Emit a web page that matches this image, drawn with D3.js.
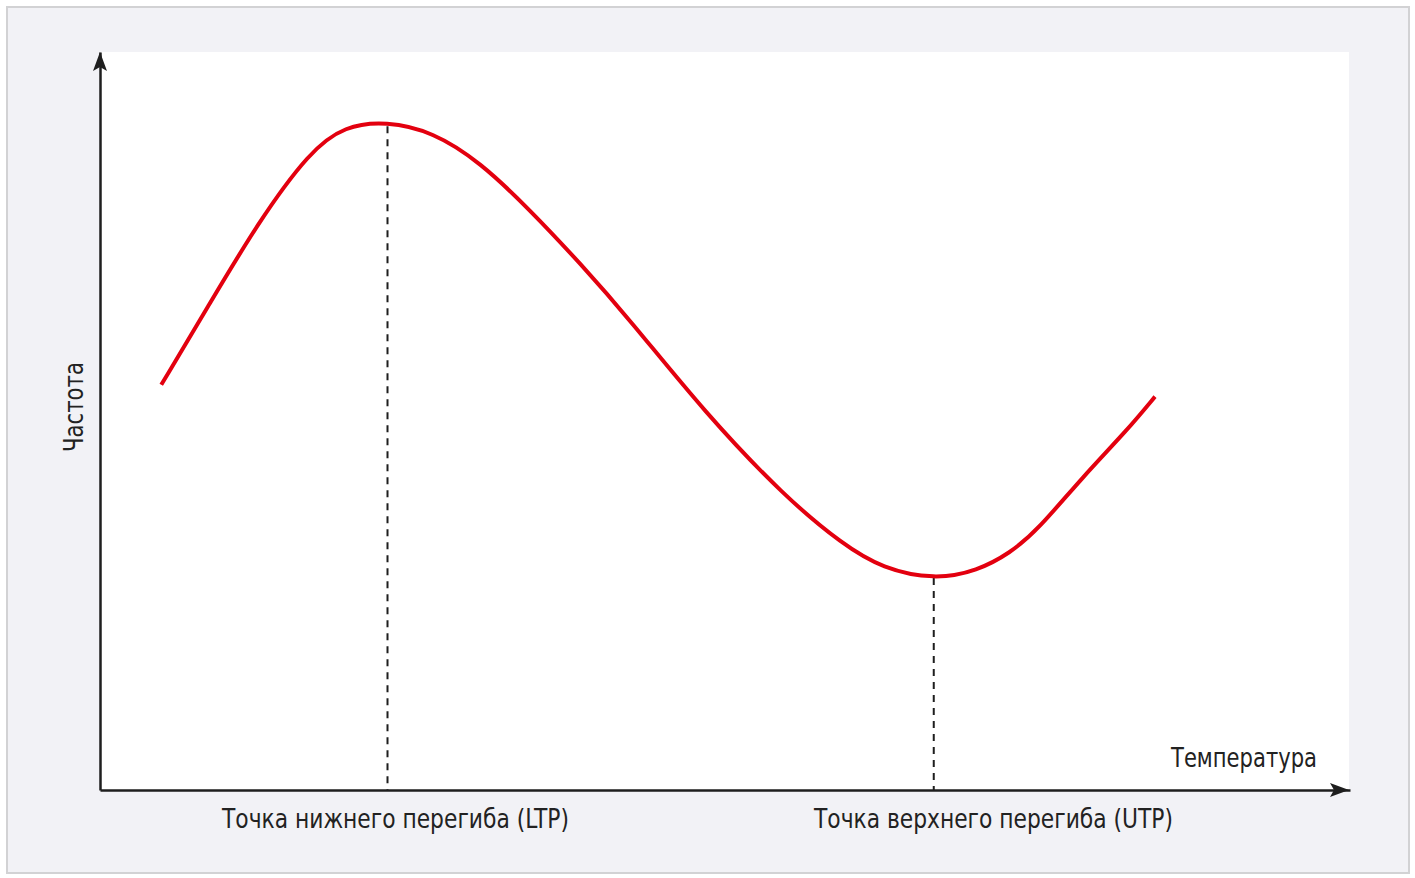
<!DOCTYPE html>
<html lang="ru">
<head>
<meta charset="utf-8">
<title>Частота и температура</title>
<script src="https://d3js.org/d3.v7.min.js"></script>
<style>
  body { margin: 0; background: #fff; }
  svg { display: block; }
  text { font-family: "Liberation Sans Narrow", "DejaVu Sans Condensed", Roboto, sans-serif; fill: #222; }
  .axis path { stroke: #1e1e1e; stroke-width: 2.5; }
  .curve { fill: none; stroke: #e3000f; stroke-width: 4; }
  .marker-line { stroke: #1e1e1e; stroke-width: 2; stroke-dasharray: 7 6; }
</style>
</head>
<body>
<svg id="chart" width="1415" height="878"></svg>
<script>
// температура (условные единицы) и частота
const temperature = [4.9, 8.6, 12.6, 16.8, 19.6, 22.9, 26.6, 30.4, 34.4, 38.4, 42.4, 48.4, 54.8, 59.4, 62.6, 66.8, 70.2, 72.8, 75.0, 78.6, 82.2, 84.4];
const frequency   = [54.9, 65.4, 76.8, 86.6, 90.0, 90.6, 89.2, 85.1, 78.6, 71.4, 63.7, 51.1, 39.7, 33.3, 30.0, 28.5, 29.7, 32.1, 35.2, 42.4, 48.8, 53.3];
const pointNames  = ["Точка нижнего перегиба (LTP)", "Точка верхнего перегиба (UTP)"];
const pointTemps  = [23.0, 66.7];
const pointFreqs  = [90.2, 29.0];
const xTitle = "Температура";
const yTitle = "Частота";

const svg = d3.select("#chart");
const mLeft = 100, mRight = 1350, mTop = 52, mBottom = 790;

const x = d3.scaleLinear().domain([0, 100]).range([mLeft, mRight]);
const y = d3.scaleLinear().domain([0, 100]).range([mBottom, mTop]);

// рамка и фон
svg.append("rect").attr("x", 7).attr("y", 7).attr("width", 1402).attr("height", 866)
  .attr("fill", "#f2f2f6").attr("stroke", "#d2d2d4").attr("stroke-width", 2);
svg.append("rect").attr("x", mLeft).attr("y", mTop).attr("width", mRight - mLeft - 1).attr("height", mBottom - mTop)
  .attr("fill", "#fff");

// пунктирные линии перегибов
svg.selectAll(".marker-line")
  .data(pointTemps)
  .enter()
  .append("line")
  .classed("marker-line", true)
  .attr("x1", d => x(d)).attr("x2", d => x(d))
  .attr("y1", (d, i) => y(pointFreqs[i]) + 2)
  .attr("y2", y(0));

// кривая
const pts = temperature.map((t, i) => [t, frequency[i]]);
svg.append("path")
  .datum(pts)
  .classed("curve", true)
  .attr("d", d3.line().x(d => x(d[0])).y(d => y(d[1])).curve(d3.curveBasis));

// оси
svg.append("g").classed("axis", true)
  .attr("transform", `translate(0,${mBottom})`)
  .call(d3.axisBottom(x).tickValues([]).tickSizeOuter(0));
svg.append("g").classed("axis", true)
  .attr("transform", `translate(${mLeft},0)`)
  .call(d3.axisLeft(y).tickValues([]).tickSizeOuter(0));

// стрелки
svg.append("path")
  .attr("d", `M${mRight - 1},${mBottom} l-19,-7 l4,7 l-4,7 z`)
  .attr("fill", "#1e1e1e");
svg.append("path")
  .attr("d", `M${mLeft},${mTop} l-7,19 l7,-4 l7,4 z`)
  .attr("fill", "#1e1e1e");

// подписи (узкий шрифт: ширину подгоняем textLength)
const labelStarts = [222, 814];
const labelWidths = [347, 359];
svg.selectAll(".point-label")
  .data(pointNames)
  .enter()
  .append("text")
  .classed("point-label", true)
  .attr("x", (d, i) => labelStarts[i])
  .attr("y", 828)
  .attr("font-size", 27)
  .attr("textLength", (d, i) => labelWidths[i])
  .attr("lengthAdjust", "spacingAndGlyphs")
  .text(d => d);

svg.append("text")
  .attr("x", 1171).attr("y", 767)
  .attr("font-size", 27)
  .attr("textLength", 146)
  .attr("lengthAdjust", "spacingAndGlyphs")
  .text(xTitle);

svg.append("text")
  .attr("transform", "translate(83,452) rotate(-90)")
  .attr("font-size", 27)
  .attr("textLength", 90)
  .attr("lengthAdjust", "spacingAndGlyphs")
  .text(yTitle);
</script>
</body>
</html>
